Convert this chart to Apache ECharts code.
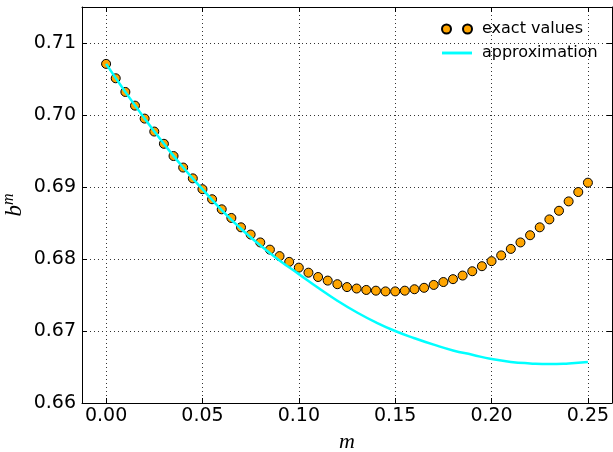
<!DOCTYPE html>
<html>
<head>
<meta charset="utf-8">
<script src="https://cdn.jsdelivr.net/npm/echarts@6/dist/echarts.min.js"></script>
<style>
  html, body { margin: 0; padding: 0; background: #fff; }
  #main { width: 613px; height: 452px; }
</style>
</head>
<body>
<div id="main"></div>
<script>
// exact values, every 0.005
var exactM = [0.000, 0.005, 0.010, 0.015, 0.020, 0.025, 0.030, 0.035, 0.040, 0.045,
              0.050, 0.055, 0.060, 0.065, 0.070, 0.075, 0.080, 0.085, 0.090, 0.095,
              0.100, 0.105, 0.110, 0.115, 0.120, 0.125, 0.130, 0.135, 0.140, 0.145,
              0.150, 0.155, 0.160, 0.165, 0.170, 0.175, 0.180, 0.185, 0.190, 0.195,
              0.200, 0.205, 0.210, 0.215, 0.220, 0.225, 0.230, 0.235, 0.240, 0.245, 0.250];
var exactB = [0.7071, 0.7051, 0.7032, 0.7013, 0.6995, 0.6977, 0.6960, 0.6943, 0.6927, 0.6912,
              0.6897, 0.6883, 0.6869, 0.6857, 0.6844, 0.6834, 0.6823, 0.6813, 0.6804, 0.6796,
              0.6788, 0.6781, 0.6775, 0.6770, 0.6765, 0.6761, 0.6759, 0.6757, 0.6756, 0.6755,
              0.6755, 0.6756, 0.6758, 0.6760, 0.6764, 0.6768, 0.6772, 0.6777, 0.6783, 0.6790,
              0.6797, 0.6805, 0.6814, 0.6823, 0.6833, 0.6844, 0.6855, 0.6867, 0.6880, 0.6893, 0.6906];

// approximation curve
var approxM = [0.00, 0.01, 0.02, 0.03, 0.04, 0.05, 0.06, 0.07, 0.08, 0.09, 0.10, 0.11, 0.12,
               0.13, 0.14, 0.15, 0.16, 0.17, 0.18, 0.19, 0.20, 0.21, 0.22, 0.23, 0.24, 0.25];
var approxB = [0.7071, 0.7032, 0.6995, 0.6960, 0.6927, 0.6897, 0.6868, 0.6842, 0.6819, 0.6798,
               0.6779, 0.6760, 0.6742, 0.6726, 0.6712, 0.6700, 0.6690, 0.6681, 0.6673, 0.6667,
               0.6661, 0.6657, 0.6655, 0.6654, 0.6655, 0.6657];

var xTicks = [0.00, 0.05, 0.10, 0.15, 0.20, 0.25];
var yTicks = [0.66, 0.67, 0.68, 0.69, 0.70, 0.71];

function pairs(xs, ys) {
    return xs.map(function (x, i) { return [x, ys[i]]; });
}

var myChart = echarts.init(document.getElementById('main'));

var tickFont = { fontFamily: 'DejaVu Sans', fontSize: 19, color: '#000' };
var frameLine = { show: true, onZero: false, lineStyle: { color: '#000', width: 1 } };
var innerTick = { show: true, inside: true, length: 5, lineStyle: { color: '#000', width: 1 } };
var gridLine = { show: true, lineStyle: { color: '#333', type: [1, 3], width: 1 } };

var option = {
    backgroundColor: '#fff',
    animation: false,
    grid: { left: 82, right: 1, top: 7, bottom: 49, containLabel: false, outerBoundsMode: 'none' },
    legend: {
        orient: 'vertical',
        left: 436,
        top: 16,
        itemWidth: 30,
        itemHeight: 9,
        itemGap: 8,
        symbolKeepAspect: true,
        textStyle: { fontFamily: 'DejaVu Sans', fontSize: 16, color: '#000', lineHeight: 16, padding: [0, 0, 0, 5] },
        data: [
            { name: 'exact values', icon: 'path://M0,4.5a4.5,4.5 0 1,0 9,0a4.5,4.5 0 1,0 -9,0M21,4.5a4.5,4.5 0 1,0 9,0a4.5,4.5 0 1,0 -9,0' },
            { name: 'approximation', icon: 'path://M2,0L28,0L28,2.5L2,2.5Z', itemStyle: { color: '#00FFFF', borderWidth: 0 } }
        ]
    },
    xAxis: [{
        type: 'value',
        min: -0.0125,
        max: 0.2625,
        name: 'm',
        nameLocation: 'middle',
        nameGap: 28,
        nameTextStyle: { fontFamily: 'Liberation Serif', fontStyle: 'italic', fontSize: 22, color: '#000' },
        axisLine: frameLine,
        axisTick: Object.assign({ customValues: xTicks }, innerTick),
        axisLabel: Object.assign({ customValues: xTicks, margin: 4, formatter: function (v) { return v.toFixed(2); } }, tickFont),
        splitLine: gridLine
    }, {
        type: 'value',
        position: 'top',
        min: -0.0125,
        max: 0.2625,
        axisLine: frameLine,
        axisTick: Object.assign({ customValues: xTicks }, innerTick),
        axisLabel: { show: false },
        splitLine: { show: false }
    }],
    yAxis: [{
        type: 'value',
        min: 0.66,
        max: 0.715,
        name: '{b|b}{s|m}',
        nameLocation: 'middle',
        nameGap: 54,
        nameMoveOverlap: false,
        nameRotate: 90,
        nameTextStyle: {
            rich: {
                b: { fontFamily: 'Liberation Serif', fontStyle: 'italic', fontSize: 23, color: '#000' },
                s: { fontFamily: 'Liberation Serif', fontStyle: 'italic', fontSize: 16, color: '#000', padding: [0, 0, 11, 0] }
            }
        },
        axisLine: frameLine,
        axisTick: Object.assign({ customValues: yTicks }, innerTick),
        axisLabel: Object.assign({ customValues: yTicks, margin: 6, formatter: function (v) { return v.toFixed(2); } }, tickFont),
        splitLine: gridLine
    }, {
        type: 'value',
        position: 'right',
        min: 0.66,
        max: 0.715,
        axisLine: frameLine,
        axisTick: Object.assign({ customValues: yTicks }, innerTick),
        axisLabel: { show: false },
        splitLine: { show: false }
    }],
    series: [{
        name: 'exact values',
        type: 'scatter',
        xAxisIndex: 0,
        yAxisIndex: 0,
        symbol: 'circle',
        symbolSize: 9,
        itemStyle: { color: '#FFA500', borderColor: '#000', borderWidth: 1, opacity: 1 },
        data: pairs(exactM, exactB),
        z: 2
    }, {
        name: 'approximation',
        type: 'line',
        xAxisIndex: 0,
        yAxisIndex: 0,
        smooth: true,
        symbol: 'none',
        lineStyle: { color: '#00FFFF', width: 2.5 },
        itemStyle: { color: '#00FFFF' },
        data: pairs(approxM, approxB),
        z: 3
    }]
};

myChart.setOption(option);
</script>
</body>
</html>
